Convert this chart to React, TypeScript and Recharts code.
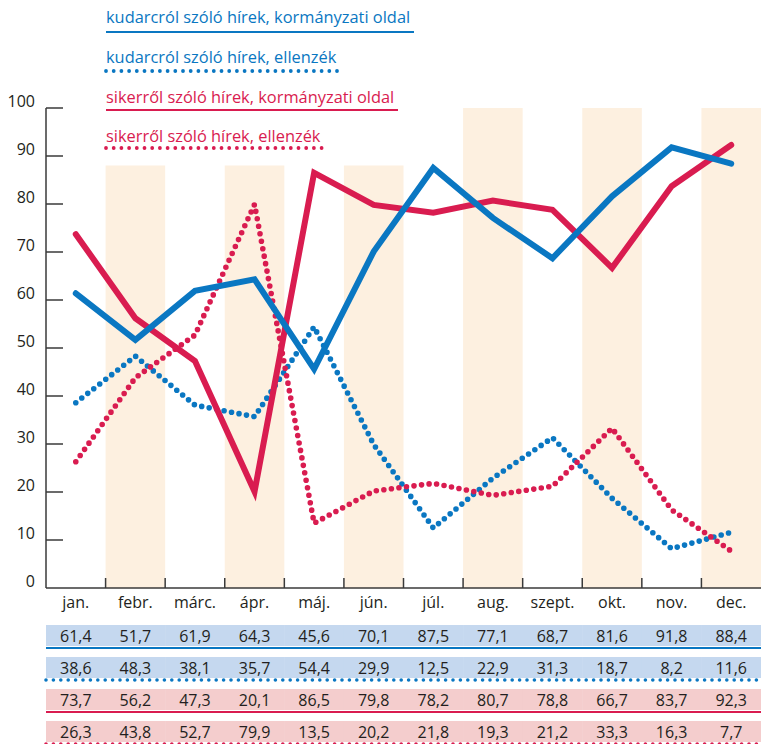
import { ComposedChart, Line, XAxis, YAxis, ReferenceArea } from 'recharts';

const months = ['jan.', 'febr.', 'márc.', 'ápr.', 'máj.', 'jún.', 'júl.', 'aug.', 'szept.', 'okt.', 'nov.', 'dec.'];

// kudarcról szóló hírek
const failGov = [61.4, 51.7, 61.9, 64.3, 45.6, 70.1, 87.5, 77.1, 68.7, 81.6, 91.8, 88.4];
const failOpp = [38.6, 48.3, 38.1, 35.7, 54.4, 29.9, 12.5, 22.9, 31.3, 18.7, 8.2, 11.6];
// sikerről szóló hírek
const successGov = [73.7, 56.2, 47.3, 20.1, 86.5, 79.8, 78.2, 80.7, 78.8, 66.7, 83.7, 92.3];
const successOpp = [26.3, 43.8, 52.7, 79.9, 13.5, 20.2, 21.8, 19.3, 21.2, 33.3, 16.3, 7.7];

const yTicks = [0, 10, 20, 30, 40, 50, 60, 70, 80, 90, 100];

// shaded month columns and how high they reach
const shadedMonths = ['febr.', 'ápr.', 'jún.', 'aug.', 'okt.', 'dec.'];
const shadedTops = [88, 88, 88, 100, 100, 100];

const BLUE = '#0a77c2';
const RED = '#d91c50';
const TEXT = '#231f20';
const AXIS = '#3a3a3a';
const FONT = '"Open Sans", sans-serif';

const series = [
  { key: 'failGov', name: 'kudarcról szóló hírek, kormányzati oldal', color: BLUE, dotted: false, values: failGov, bg: '#c5d8ef', legendW: 308 },
  { key: 'failOpp', name: 'kudarcról szóló hírek, ellenzék', color: BLUE, dotted: true, values: failOpp, bg: '#c5d8ef', legendW: 232 },
  { key: 'successGov', name: 'sikerről szóló hírek, kormányzati oldal', color: RED, dotted: false, values: successGov, bg: '#f4cdcd', legendW: 292 },
  { key: 'successOpp', name: 'sikerről szóló hírek, ellenzék', color: RED, dotted: true, values: successOpp, bg: '#f4cdcd', legendW: 216 },
];

const data = months.map((m, i) => {
  const row: Record<string, string | number> = { month: m };
  series.forEach((s) => { row[s.key] = s.values[i]; });
  return row;
});

const fmt = (v: number) => v.toFixed(1).replace('.', ',');

function YTick(props: any) {
  const { x, y, payload } = props;
  return (
    <g>
      <text x={x - 11} y={y - 1.5} textAnchor="end" fontFamily={FONT} fontSize={16} fill={TEXT}>
        {payload.value}
      </text>
      {payload.value > 0 && <line x1={x} x2={x + 17} y1={y} y2={y} stroke={AXIS} strokeWidth={1.5} />}
    </g>
  );
}

function MonthTick(props: any) {
  const { x, y, payload, index } = props;
  const half = payload.offset || 29.8;
  const last = index === months.length - 1;
  return (
    <g>
      {index > 0 && <line x1={x - half} x2={x - half} y1={y - 10} y2={y} stroke={AXIS} strokeWidth={1.5} />}
      <text x={x} y={y + 20} textAnchor="middle" fontFamily={FONT} fontSize={16} fill={TEXT}>
        {payload.value}
      </text>
      {series.map((s, r) => {
        const top = y + 37 + r * 32;
        return (
          <g key={s.key}>
            <rect x={x - half} y={top} width={half * 2 + 0.5} height={21} fill={s.bg} />
            <text x={x} y={top + 17} textAnchor="middle" fontFamily={FONT} fontSize={16} fill={TEXT}>
              {fmt(s.values[index])}
            </text>
          </g>
        );
      })}
      {last &&
        series.map((s, r) => {
          const ly = y + 37 + r * 32 + 23;
          const x0 = x + half - half * 2 * months.length;
          return s.dotted ? (
            <line key={s.key} x1={x0} x2={x + half} y1={ly} y2={ly} stroke={s.color} strokeWidth={3.6}
              strokeDasharray="0 7.4" strokeLinecap="round" />
          ) : (
            <line key={s.key} x1={x0} x2={x + half} y1={ly} y2={ly} stroke={s.color} strokeWidth={2.2} />
          );
        })}
    </g>
  );
}

function LegendBlock() {
  const rows = [
    { base: 23, line: 32 },
    { base: 63, line: 71 },
    { base: 103, line: 110 },
    { base: 142, line: 148 },
  ];
  return (
    <svg width={761} height={160} style={{ position: 'absolute', left: 0, top: 0, pointerEvents: 'none' }}>
      {series.map((s, i) => (
        <g key={s.key}>
          <text x={106} y={rows[i].base} fontFamily={FONT} fontSize={16.4} fill={s.color}>{s.name}</text>
          {s.dotted ? (
            <line x1={106} x2={106 + s.legendW} y1={rows[i].line} y2={rows[i].line} stroke={s.color}
              strokeWidth={3.8} strokeDasharray="0 7.7" strokeLinecap="round" />
          ) : (
            <line x1={106} x2={106 + s.legendW} y1={rows[i].line} y2={rows[i].line} stroke={s.color} strokeWidth={2.2} />
          )}
        </g>
      ))}
    </svg>
  );
}

const drawOrder = [1, 3, 2, 0];

export default function App() {
  return (
    <div style={{ position: 'absolute', left: 0, top: 0, width: 761, height: 744, background: '#fff' }}>
      <ComposedChart width={761} height={744} data={data} margin={{ top: 108, right: 0, bottom: 0, left: 0 }}>
        {shadedMonths.map((m, i) => (
          <ReferenceArea key={m} x1={m} x2={m} y1={0} y2={shadedTops[i]} fill="#fdf0e0" fillOpacity={1}
            stroke="none" ifOverflow="visible" />
        ))}
        <XAxis dataKey="month" scale="band" interval={0} height={156} tickSize={0} tickMargin={0} tickLine={false}
          axisLine={{ stroke: AXIS, strokeWidth: 1.5 }} tick={<MonthTick />} />
        <YAxis domain={[0, 100]} ticks={yTicks} interval={0} width={46} tickSize={0} tickMargin={0} tickLine={false}
          axisLine={{ stroke: AXIS, strokeWidth: 1.5 }} tick={<YTick />} />
        {drawOrder.map((i) => {
          const s = series[i];
          return (
            <Line key={s.key} type="linear" dataKey={s.key} name={s.name} stroke={s.color}
              strokeWidth={s.dotted ? 5.6 : 6} strokeDasharray={s.dotted ? '0 7.6' : undefined}
              strokeLinecap="round" strokeLinejoin={s.dotted ? 'round' : 'miter'}
              dot={false} activeDot={false} isAnimationActive={false} />
          );
        })}
      </ComposedChart>
      <LegendBlock />
    </div>
  );
}
